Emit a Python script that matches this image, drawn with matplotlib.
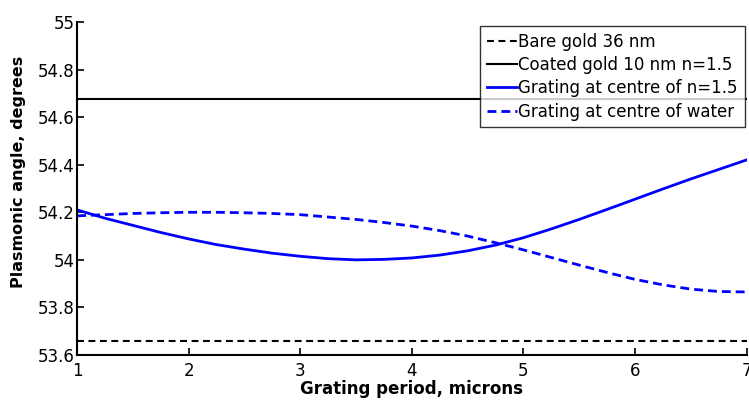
import matplotlib
matplotlib.use("Agg")
import matplotlib.pyplot as plt

plt.rcParams['font.family'] = ['DejaVu Sans']

# Grating period (microns)
period = [1.0, 1.25, 1.5, 1.75, 2.0, 2.25, 2.5, 2.75, 3.0, 3.25, 3.5, 3.75, 4.0,
          4.25, 4.5, 4.75, 5.0, 5.25, 5.5, 5.75, 6.0, 6.25, 6.5, 6.75, 7.0]

# Plasmonic angle (degrees) for each configuration
grating_n15 = [54.21, 54.175, 54.145, 54.115, 54.088, 54.064, 54.045, 54.028,
               54.015, 54.005, 54.0, 54.002, 54.008, 54.02, 54.038, 54.062,
               54.093, 54.13, 54.17, 54.212, 54.255, 54.298, 54.34, 54.38, 54.42]
grating_water = [54.185, 54.19, 54.195, 54.198, 54.2, 54.2, 54.198, 54.195,
                 54.19, 54.18, 54.17, 54.157, 54.142, 54.123, 54.1, 54.072,
                 54.042, 54.01, 53.978, 53.947, 53.918, 53.895, 53.877, 53.867,
                 53.865]
bare_gold = 53.66
coated_gold = 54.677

labels = ["Bare gold 36 nm", "Coated gold 10 nm n=1.5",
          "Grating at centre of n=1.5", "Grating at centre of water"]

fig = plt.figure(figsize=(7.49, 4.0), dpi=100)
ax = fig.add_axes([0.103, 0.1125, 0.8937, 0.8325])

x_span = [period[0], period[-1]]
ax.plot(x_span, [bare_gold, bare_gold], color='black', lw=1.5, ls=(0, (3.3, 2.2)),
        label=labels[0])
ax.plot(x_span, [coated_gold, coated_gold], color='black', lw=1.5, label=labels[1])
ax.plot(period, grating_n15, color='#0000ff', lw=2.0, label=labels[2])
ax.plot(period, grating_water, color='#0000ff', lw=2.0, ls=(0, (3.2, 1.8)),
        label=labels[3])

ax.set_xlim(1, 7)
ax.set_ylim(53.6, 55)
ax.set_xticks([1, 2, 3, 4, 5, 6, 7])
ax.set_yticks([53.6, 53.8, 54.0, 54.2, 54.4, 54.6, 54.8, 55.0])
ax.set_yticklabels(["53.6", "53.8", "54", "54.2", "54.4", "54.6", "54.8", "55"])
ax.tick_params(direction='in', length=5, width=1.2, labelsize=12, colors='black')
ax.tick_params(axis='x', pad=5)
ax.tick_params(axis='y', pad=2)
for side in ['top', 'right']:
    ax.spines[side].set_visible(False)
for side in ['left', 'bottom']:
    ax.spines[side].set_linewidth(1.5)

ax.set_xlabel("Grating period, microns", fontsize=12, fontweight='bold', labelpad=0)
ax.set_ylabel("Plasmonic angle, degrees", fontsize=11.5, fontweight='bold')
ax.yaxis.set_label_coords(-0.077, 0.55)

leg = ax.legend(loc='upper right', bbox_to_anchor=(0.997, 0.988), fontsize=12,
                frameon=True, fancybox=False, edgecolor='black', handlelength=1.8,
                handletextpad=0.1, borderpad=0.4, labelspacing=0.32,
                borderaxespad=0.0)
leg.get_frame().set_linewidth(1.0)

fig.savefig("out.png", dpi=100)
